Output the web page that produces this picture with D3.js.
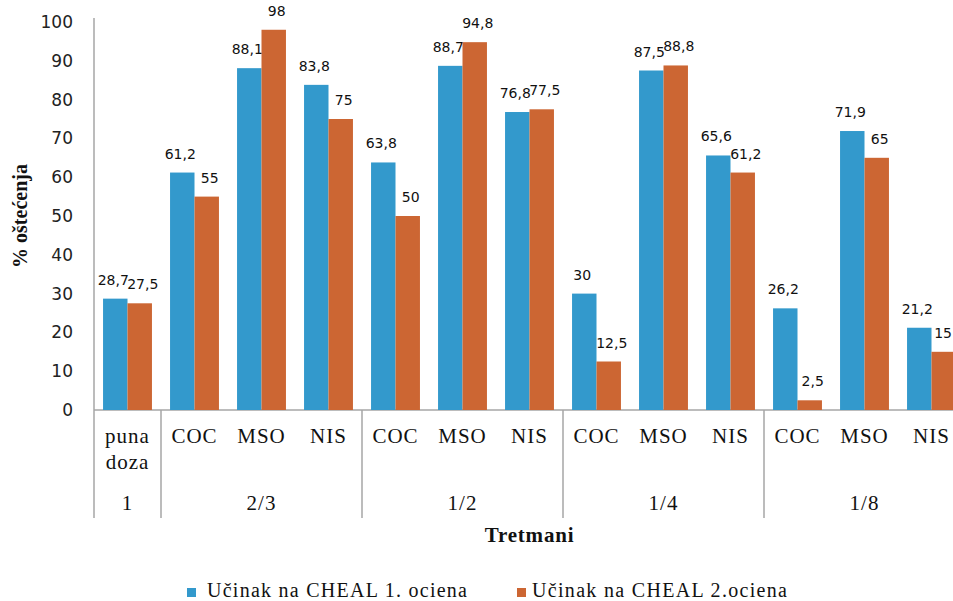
<!DOCTYPE html>
<html><head><meta charset="utf-8">
<script src="https://cdn.jsdelivr.net/npm/d3@7"></script>
<style>body{margin:0;background:#fff}svg{display:block}</style>
</head><body>
<svg id="c" width="953" height="601"></svg>
<script>
const treatments = ["puna doza","COC","MSO","NIS","COC","MSO","NIS","COC","MSO","NIS","COC","MSO","NIS"];
const doseGroups = ["1","2/3","1/2","1/4","1/8"];
const doseSizes = [1,3,3,3,3];
const series1 = [28.7,61.2,88.1,83.8,63.8,88.7,76.8,30,87.5,65.6,26.2,71.9,21.2];
const series2 = [27.5,55,98,75,50,94.8,77.5,12.5,88.8,61.2,2.5,65,15];
const seriesNames = ["Učinak na CHEAL 1. ociena","Učinak na CHEAL 2.ociena"];
const colors = ["#3399CC","#CC6633"];
const yTicks = [0,10,20,30,40,50,60,70,80,90,100];

const W = 953;
const svg = d3.select("#c");
const L = 94, R = 965, T = 22, B = 410;
const x0 = d3.scaleBand().domain(treatments.map((d,i)=>i)).range([L,R]).padding(0);
const x1 = d3.scaleBand().domain([0,1]).range([0,x0.bandwidth()]).paddingInner(0).paddingOuter(0.37);
const y = d3.scaleLinear().domain([0,100]).range([B,T]);
const fmt = v => String(v).replace(".",",");

// y axis tick labels
const yAxis = d3.axisLeft(y).tickValues(yTicks).tickSize(0).tickPadding(21).tickFormat(d=>d);
const ga = svg.append("g").attr("transform",`translate(${L},0)`).call(yAxis);
ga.select(".domain").remove();
ga.selectAll("text").attr("font-family","DejaVu Sans, sans-serif").attr("font-size",17).attr("fill","#222");

// axis lines
svg.append("line").attr("x1",L).attr("x2",L).attr("y1",T-4).attr("y2",518).attr("stroke","#a6a6a6").attr("stroke-width",1.5);
svg.append("line").attr("x1",L).attr("x2",R).attr("y1",B).attr("y2",B).attr("stroke","#a6a6a6").attr("stroke-width",1.5);

// bars
const all = [series1, series2];
all.forEach((s,si)=>{
  svg.append("g").selectAll("rect").data(s).join("rect")
    .attr("x",(d,i)=>x0(i)+x1(si))
    .attr("width",x1.bandwidth())
    .attr("y",d=>y(d))
    .attr("height",d=>B-y(d))
    .attr("fill",colors[si]);
  const lbl = svg.append("g").selectAll("text").data(s).join("text")
    .attr("x",(d,i)=>x0(i)+x1(si)+x1.bandwidth()/2 + (si===0?-2:3))
    .attr("y",d=>y(d)-14)
    .attr("text-anchor","middle")
    .attr("font-family","DejaVu Sans, sans-serif").attr("font-size",14).attr("fill","#111")
    .text(d=>fmt(d));
  // keep labels inside the picture
  lbl.each(function(){
    const bb = this.getBBox();
    if (bb.x + bb.width > W - 1) {
      d3.select(this).attr("x", +d3.select(this).attr("x") - (bb.x + bb.width - (W - 1)));
    }
  });
});

// category labels
const catG = svg.append("g").attr("font-family","Liberation Serif, serif").attr("font-size",21).attr("letter-spacing",1).attr("fill","#111").attr("text-anchor","middle");
treatments.forEach((t,i)=>{
  const cx = x0(i)+x0.bandwidth()/2;
  const parts = t.split(" ");
  parts.forEach((p,j)=>catG.append("text").attr("x",cx).attr("y",443+j*26).text(p));
});

// group labels and separators
let start = 0;
doseGroups.forEach((g,gi)=>{
  const end = start + doseSizes[gi];
  const xs = x0(start), xe = x0(end-1)+x0.bandwidth();
  catG.append("text").attr("x",(xs+xe)/2).attr("y",510).text(g);
  svg.append("line").attr("x1",xe).attr("x2",xe).attr("y1",B).attr("y2",518).attr("stroke","#a6a6a6").attr("stroke-width",1.5);
  start = end;
});

// axis titles
svg.append("text").attr("x",(L+R)/2).attr("y",542).attr("text-anchor","middle")
  .attr("font-family","Liberation Serif, serif").attr("font-weight","bold").attr("font-size",21).attr("letter-spacing",0.8).attr("fill","#111").text("Tretmani");
svg.append("text").attr("transform",`translate(27,${(T+B)/2}) rotate(-90)`).attr("text-anchor","middle")
  .attr("font-family","Liberation Serif, serif").attr("font-weight","bold").attr("font-size",20).attr("fill","#111").text("% oštećenja");

// legend
const legX = [187, 517];
const legW = [260, 255];
seriesNames.forEach((n,i)=>{
  svg.append("rect").attr("x",legX[i]).attr("y",588).attr("width",9).attr("height",9).attr("fill",colors[i]);
  svg.append("text").attr("x",legX[i]+20 - i*5).attr("y",597)
    .attr("font-family","Liberation Serif, serif").attr("font-size",20).attr("fill","#111")
    .attr("textLength",legW[i]).attr("lengthAdjust","spacing").text(n);
});
</script>
</body></html>
